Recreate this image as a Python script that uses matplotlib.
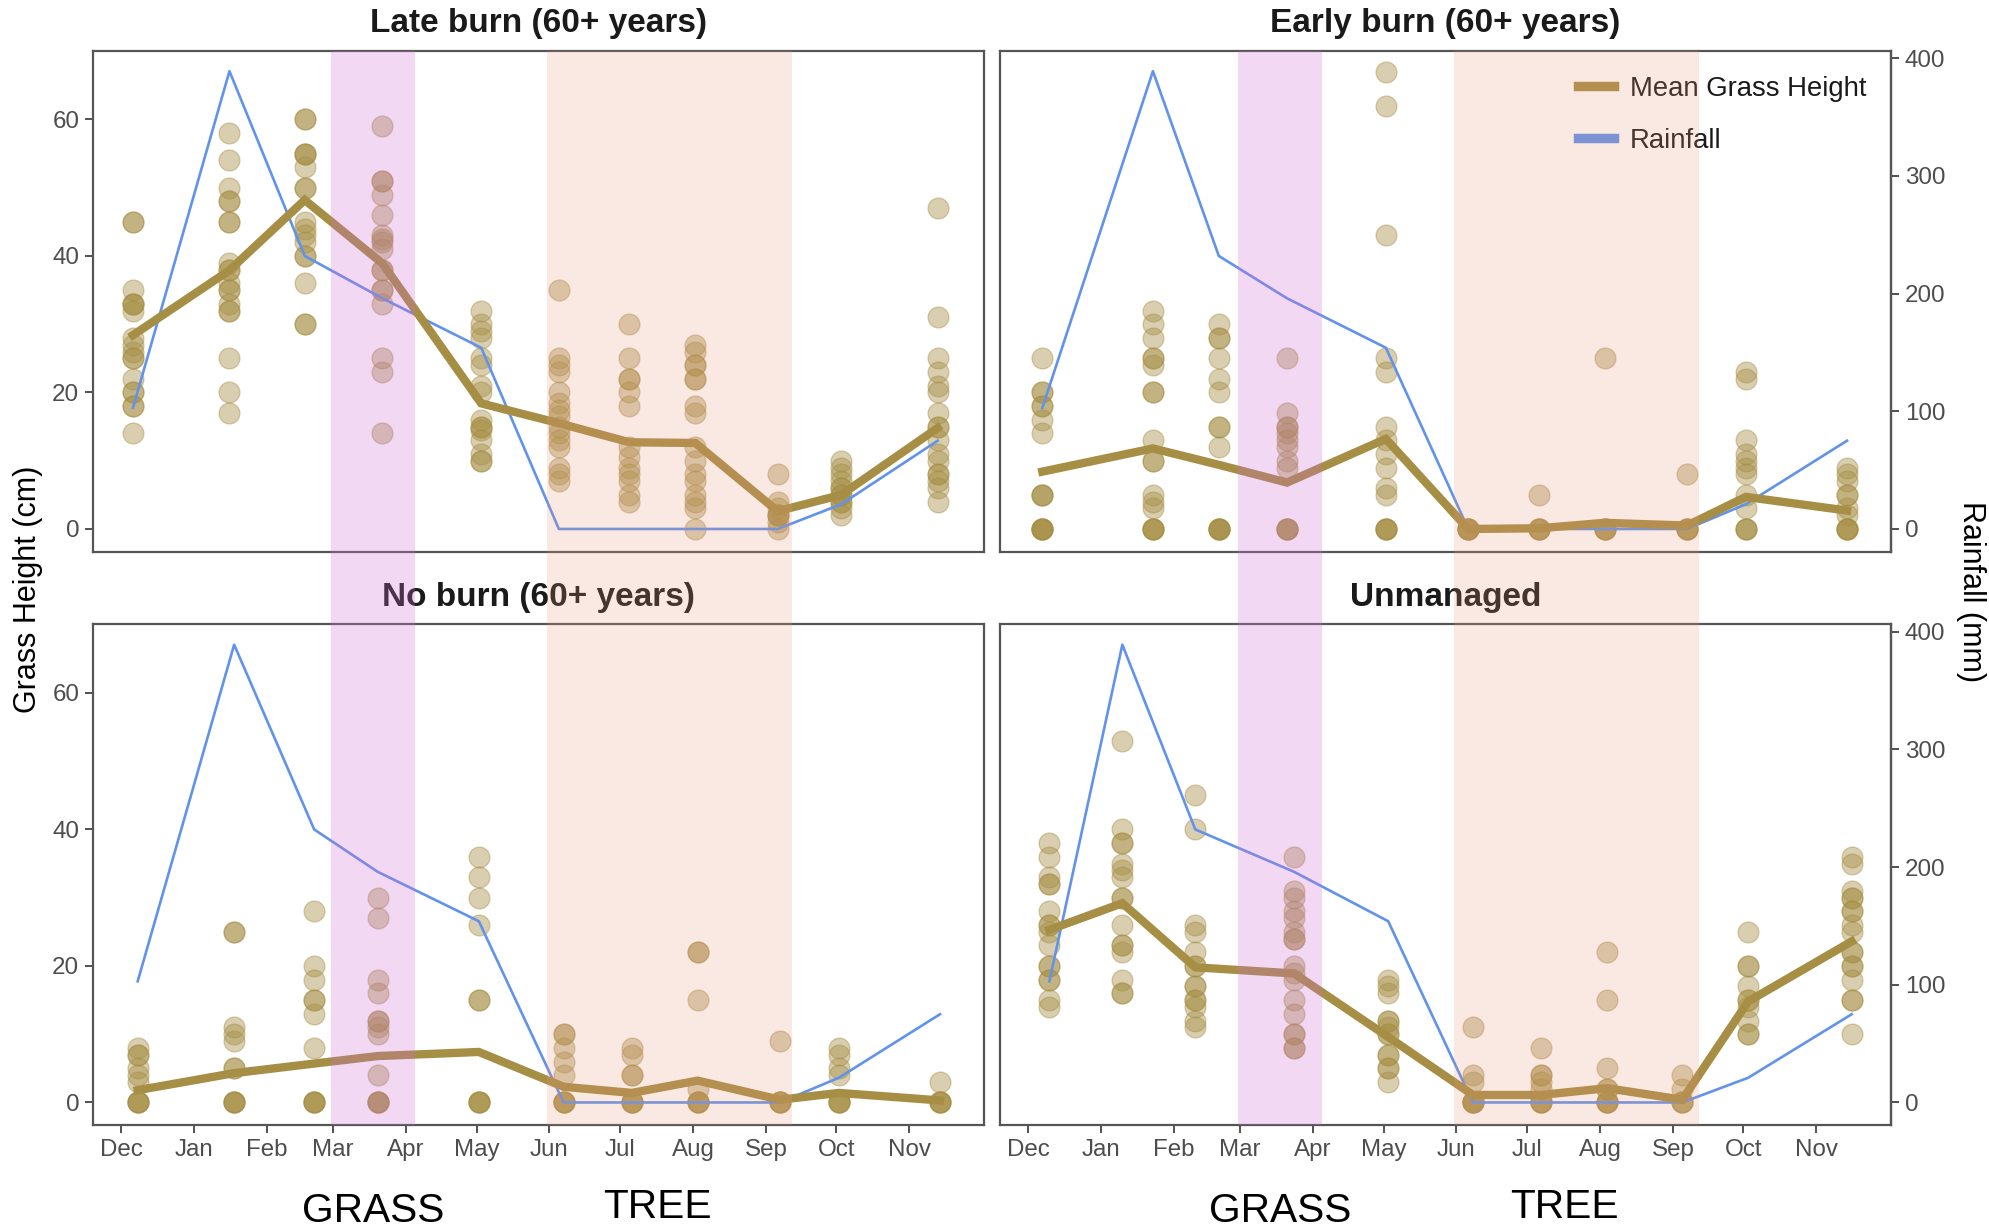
import matplotlib
matplotlib.use("Agg")
import matplotlib.pyplot as plt
import matplotlib.dates as mdates
import matplotlib.transforms as mtransforms
from matplotlib.patches import Rectangle
from matplotlib.lines import Line2D
import pandas as pd

plt.rcParams["font.family"] = ["Liberation Sans", "DejaVu Sans"]

# --- data ---
month_starts = ["2018-12-01", "2019-01-01", "2019-02-01", "2019-03-01", "2019-04-01", "2019-05-01",
                "2019-06-01", "2019-07-01", "2019-08-01", "2019-09-01", "2019-10-01", "2019-11-01"]
month_labels = ["Dec", "Jan", "Feb", "Mar", "Apr", "May", "Jun", "Jul", "Aug", "Sep", "Oct", "Nov"]

rain_scale = 5.8  # mm of rainfall per cm of grass on the secondary axis
rainfall = [103, 389, 232, 196, 154, 0, 0, 0, 0, 21, 75]

grass_period = ("2019-02-28", "2019-04-05")
tree_period = ("2019-05-31", "2019-09-12")

late_dates = ["2018-12-06", "2019-01-16", "2019-02-17", "2019-03-22", "2019-05-03", "2019-06-05",
              "2019-07-05", "2019-08-02", "2019-09-06", "2019-10-03", "2019-11-13"]
late_mean = [28.4, 37.9, 48.2, 38.9, 18.4, 15.5, 12.7, 12.6, 2.6, 5.0, 14.8]
late_points = [
    [45, 45, 35, 33, 33, 33, 32, 28, 27, 26, 25, 25, 22, 20, 20, 18, 18, 14],
    [58, 54, 50, 48, 48, 45, 45, 39, 38, 38, 36, 35, 35, 33, 32, 32, 25, 20, 17],
    [60, 60, 55, 55, 55, 53, 50, 50, 45, 44, 43, 42, 40, 40, 36, 30, 30],
    [59, 51, 51, 49, 46, 43, 42.5, 42, 41, 38, 38, 35, 35, 33, 25, 23, 14],
    [32, 30, 29, 28, 25, 24, 21, 20, 16, 15, 15, 14.5, 13, 11, 10, 10],
    [35, 25, 24, 23, 20, 18.5, 17.5, 16.5, 15, 14, 13, 12, 9, 8, 7],
    [30, 25, 22, 22, 20, 18, 12, 10.5, 9, 8, 7, 5, 4],
    [27, 26, 24, 24, 22, 22, 18, 17, 12, 10, 8, 7, 5, 4, 3, 0],
    [8, 4, 3, 2, 2, 2, 1, 0],
    [10, 9, 8, 7, 6, 6, 5, 5, 4, 4, 3, 2],
    [47, 31, 25, 23, 21, 20, 17, 15, 15, 13, 11, 10, 8, 8, 7, 6, 4],
]

early_dates = ["2018-12-07", "2019-01-23", "2019-02-20", "2019-03-21", "2019-05-02", "2019-06-06",
               "2019-07-06", "2019-08-03", "2019-09-07", "2019-10-02", "2019-11-14"]
early_mean = [8.4, 11.8, 9.4, 6.8, 13.2, 0.0, 0.1, 0.9, 0.5, 4.7, 2.7]
early_points = [
    [25, 20, 20, 18, 18, 16, 14, 5, 5, 5, 0, 0, 0, 0, 0],
    [32, 30, 28, 25, 25, 24, 20, 20, 13, 10, 10, 5, 4, 3, 0, 0, 0, 0],
    [30, 28, 28, 25, 22, 20, 15, 15, 12, 0, 0, 0, 0, 0],
    [25, 17, 15, 15, 14, 13, 12, 10, 9, 0, 0, 0, 0],
    [67, 62, 43, 25, 23, 15, 13, 11, 9, 6, 5, 0, 0, 0, 0],
    [0, 0, 0, 0, 0],
    [5, 0, 0, 0, 0],
    [25, 0, 0, 0, 0],
    [8, 0, 0, 0, 0],
    [23, 22, 13, 11, 10, 9, 8, 5, 3, 0, 0, 0],
    [9, 8, 7, 5, 5, 3, 2, 0, 0, 0, 0],
]

noburn_dates = ["2018-12-08", "2019-01-18", "2019-02-21", "2019-03-20", "2019-05-02", "2019-06-07",
                "2019-07-06", "2019-08-03", "2019-09-07", "2019-10-02", "2019-11-14"]
noburn_mean = [1.8, 4.3, 5.7, 6.8, 7.4, 2.3, 1.4, 3.2, 0.4, 1.4, 0.3]
noburn_points = [
    [8, 7, 7, 5, 4, 3, 0, 0, 0, 0],
    [25, 25, 11, 10, 9, 5, 5, 0, 0, 0, 0],
    [28, 20, 18, 15, 15, 13, 8, 0, 0, 0, 0],
    [30, 27, 18, 16, 12, 12, 11, 10, 4, 0, 0, 0, 0],
    [36, 33, 30, 26, 15, 15, 0, 0, 0, 0],
    [10, 10, 8, 6, 4, 0, 0, 0, 0],
    [8, 7, 4, 4, 0, 0, 0, 0],
    [22, 22, 15, 2, 0, 0, 0, 0],
    [9, 0, 0, 0, 0],
    [8, 7, 5, 4, 0, 0, 0, 0],
    [3, 0, 0, 0, 0],
]

unman_dates = ["2018-12-10", "2019-01-10", "2019-02-10", "2019-03-24", "2019-05-03", "2019-06-08",
               "2019-07-07", "2019-08-04", "2019-09-05", "2019-10-03", "2019-11-16"]
unman_mean = [25.3, 29.2, 19.8, 18.9, 9.6, 1.1, 1.1, 2.1, 0.4, 14.8, 23.6]
unman_points = [
    [38, 36, 33, 32, 32, 28, 26, 26, 25, 23, 20, 20, 18, 18, 15, 14],
    [53, 40, 38, 38, 35, 34, 33, 30, 30, 26, 23, 23, 22, 18, 16, 16],
    [45, 40, 26, 25, 22, 20, 20, 17, 17, 15, 15, 14, 12, 11],
    [36, 31, 30, 28, 27, 25, 24, 24, 20, 19, 18, 15, 13, 10, 10, 8, 8],
    [18, 17, 16, 12, 12, 11, 10, 10, 7, 7, 5, 5, 3],
    [11, 4, 3, 0, 0, 0, 0, 0],
    [8, 4, 4, 3, 2, 0, 0, 0, 0],
    [22, 15, 5, 2, 2, 0, 0, 0, 0],
    [4, 2, 0, 0, 0],
    [25, 20, 20, 17, 15, 15, 14, 12, 10, 10],
    [36, 35, 31, 30, 30, 28, 28, 26, 25, 22, 22, 20, 20, 18, 15, 15, 10],
]

panels = [
    ("Late burn (60+ years)", late_dates, late_mean, late_points),
    ("Early burn (60+ years)", early_dates, early_mean, early_points),
    ("No burn (60+ years)", noburn_dates, noburn_mean, noburn_points),
    ("Unmanaged", unman_dates, unman_mean, unman_points),
]

# --- style ---
gold = "#A68E44"
blue = "#6192EC"
W, H = 1990, 1229


def dnum(s):
    return mdates.date2num(pd.to_datetime(s))


fig = plt.figure(figsize=(W / 200, H / 200), dpi=200)
col_x = [93 / W, 1000 / W]
row_y = [1 - 551.5 / H, 1 - 1125 / H]
ax_w, ax_h = 891 / W, 501 / H

x0 = dnum("2018-12-01")
axes = []
for k, (title, dates, mean, pts) in enumerate(panels):
    r, c = divmod(k, 2)
    ax = fig.add_axes([col_x[c], row_y[r], ax_w, ax_h])
    axes.append(ax)
    xs = mdates.date2num(pd.to_datetime(dates))

    for x, vals in zip(xs, pts):
        ax.scatter([x] * len(vals), vals, s=56, color=gold, alpha=0.42,
                   edgecolors=gold, linewidths=0.5, zorder=2)
    ax.plot(xs, [v / rain_scale for v in rainfall], color=blue, lw=0.95, zorder=3)
    ax.plot(xs, mean, color=gold, lw=3.0, solid_joinstyle="miter", zorder=4)

    ax.set_xlim(x0 - 12, x0 + 366.7)
    ax.set_ylim(-3.3, 70.1)
    ax.set_xticks(mdates.date2num(pd.to_datetime(month_starts)))
    ax.set_xticklabels(month_labels)
    ax.set_yticks([0, 20, 40, 60])

    for sp in ax.spines.values():
        sp.set_color("#555555")
        sp.set_linewidth(0.8)
    ax.tick_params(length=2.75, width=0.6, color="#333333", labelcolor="#4D4D4D",
                   labelsize=8.7, pad=2.2)
    if r == 0:
        ax.tick_params(bottom=False, labelbottom=False)
    if c == 1:
        ax.tick_params(left=False, labelleft=False)
        sec = ax.secondary_yaxis("right", functions=(lambda y: y * rain_scale,
                                                     lambda y: y / rain_scale))
        sec.set_yticks([0, 100, 200, 300, 400])
        sec.tick_params(length=2.75, width=0.6, color="#333333", labelcolor="#4D4D4D",
                        labelsize=8.7, pad=2.2)
        sec.spines["right"].set_color("#555555")
        sec.spines["right"].set_linewidth(0.8)

    ax.text(0.5, 1.053, title, transform=ax.transAxes, ha="center", va="center",
            fontsize=12, fontweight="bold", color="#1A1A1A")

# legend in the top-right panel
handles = [Line2D([], [], color=gold, lw=3.4), Line2D([], [], color=blue, lw=3.4)]
leg = axes[1].legend(handles, ["Mean Grass Height", "Rainfall"], loc="upper right",
                     bbox_to_anchor=(0.985, 0.972), frameon=False, fontsize=9.9,
                     handlelength=1.3, handletextpad=0.6, labelspacing=0.95,
                     borderaxespad=0)
for t in leg.get_texts():
    t.set_color("#1A1A1A")

# season bands, spanning both rows of each column (drawn over everything)
band_bottom = row_y[1]
band_top = row_y[0] + ax_h
for c in range(2):
    trans = mtransforms.blended_transform_factory(axes[c].transData, fig.transFigure)
    for (start, end), colr, a in [(grass_period, "#D070D0", 0.27),
                                  (tree_period, "#E9967A", 0.21)]:
        rect = Rectangle((dnum(start), band_bottom), dnum(end) - dnum(start),
                         band_top - band_bottom, transform=trans, facecolor=colr,
                         alpha=a, edgecolor="none", zorder=5)
        fig.add_artist(rect)
    tb = mtransforms.blended_transform_factory(axes[2 + c].transData, fig.transFigure)
    fig.text(dnum("2019-03-18"), 1 - 1222.5 / H, "GRASS", transform=tb, ha="center",
             va="baseline", fontsize=14.7, color="black")
    fig.text(dnum("2019-07-17"), 1 - 1218.5 / H, "TREE", transform=tb, ha="center",
             va="baseline", fontsize=14.7, color="black")

fig.text(28 / W, 1 - 589 / H, "Grass Height (cm)", rotation=90, ha="center", va="center",
         fontsize=11, color="black")
fig.text(1971 / W, 1 - 592 / H, "Rainfall (mm)", rotation=-90, ha="center", va="center",
         fontsize=11, color="black")

fig.savefig("out.png", dpi=200)
